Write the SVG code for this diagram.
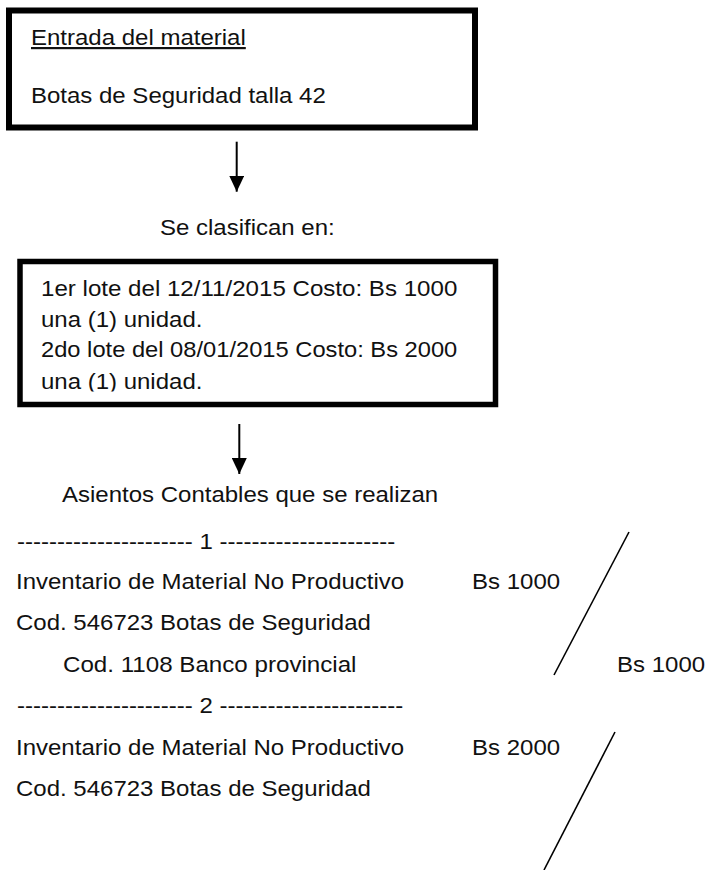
<svg xmlns="http://www.w3.org/2000/svg" width="705" height="870" viewBox="0 0 705 870">
<style>
text{font-family:"Liberation Sans",Arial,sans-serif;font-size:22px;fill:#111}
.box{fill:#fff;stroke:#000}
.conn{stroke:#000;stroke-width:2;fill:none}
.slash{stroke:#000;stroke-width:1.6;fill:none}
</style>
<defs>
<marker id="ah" markerUnits="userSpaceOnUse" viewBox="0 0 16 15" refX="16" refY="7.5" markerWidth="16" markerHeight="15" orient="auto">
<path d="M0,0 L16,7.5 L0,15 z" fill="#000"/>
</marker>
<clipPath id="clip2"><rect x="20" y="261" width="476" height="130.5"/></clipPath>
</defs>
<rect width="705" height="870" fill="#fff"/>
<g id="entrada">
<rect class="box" x="9" y="10.5" width="466" height="117" stroke-width="6"/>
<text x="31" y="45" textLength="214.8" lengthAdjust="spacingAndGlyphs" text-decoration="underline">Entrada del material</text>
<text x="31" y="103" textLength="294.8" lengthAdjust="spacingAndGlyphs">Botas de Seguridad talla 42</text>
</g>
<g id="clasifican">
<text x="160" y="235" textLength="174.7" lengthAdjust="spacingAndGlyphs">Se clasifican en:</text>
</g>
<g id="lotes">
<rect class="box" x="20" y="261.5" width="475.5" height="143" stroke-width="5.5"/>
<g clip-path="url(#clip2)">
<text x="41" y="296" textLength="416.3" lengthAdjust="spacingAndGlyphs">1er lote del 12/11/2015 Costo: Bs 1000</text>
<text x="41" y="326.5" textLength="161.4" lengthAdjust="spacingAndGlyphs">una (1) unidad.</text>
<text x="41" y="357" textLength="416.3" lengthAdjust="spacingAndGlyphs">2do lote del 08/01/2015 Costo: Bs 2000</text>
<text x="41" y="389" textLength="161.4" lengthAdjust="spacingAndGlyphs">una (1) unidad.</text>
</g>
</g>
<g id="asientos">
<text x="62" y="502" textLength="376.2" lengthAdjust="spacingAndGlyphs">Asientos Contables que se realizan</text>
</g>
<g id="asiento1">
<text x="17" y="548.5" textLength="378.3" lengthAdjust="spacingAndGlyphs">---------------------- 1 ----------------------</text>
<text x="16" y="588.5" textLength="388.2" lengthAdjust="spacingAndGlyphs">Inventario de Material No Productivo</text>
<text x="472" y="588.5" textLength="88.1" lengthAdjust="spacingAndGlyphs">Bs 1000</text>
<text x="16" y="630" textLength="354.9" lengthAdjust="spacingAndGlyphs">Cod. 546723 Botas de Seguridad</text>
<text x="63" y="672" textLength="293.5" lengthAdjust="spacingAndGlyphs">Cod. 1108 Banco provincial</text>
<text x="617" y="672" textLength="88.1" lengthAdjust="spacingAndGlyphs">Bs 1000</text>
<line class="slash" x1="629" y1="532" x2="554" y2="675"/>
</g>
<g id="asiento2">
<text x="17" y="713" textLength="386.3" lengthAdjust="spacingAndGlyphs">---------------------- 2 -----------------------</text>
<text x="16" y="755" textLength="388.2" lengthAdjust="spacingAndGlyphs">Inventario de Material No Productivo</text>
<text x="472" y="755" textLength="88.1" lengthAdjust="spacingAndGlyphs">Bs 2000</text>
<text x="16" y="796" textLength="354.9" lengthAdjust="spacingAndGlyphs">Cod. 546723 Botas de Seguridad</text>
<line class="slash" x1="615" y1="732" x2="544" y2="870"/>
</g>
<g id="connectors">
<line class="conn" x1="236.7" y1="141.7" x2="236.7" y2="191.7" marker-end="url(#ah)"/>
<line class="conn" x1="239.3" y1="424" x2="239.3" y2="474" marker-end="url(#ah)"/>
</g>
</svg>
